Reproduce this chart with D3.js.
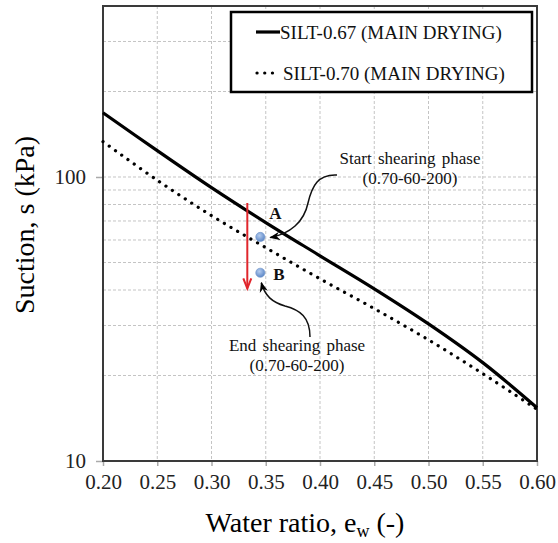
<!DOCTYPE html>
<html><head><meta charset="utf-8">
<script src="https://cdn.jsdelivr.net/npm/d3@7"></script>
<style>
html,body{margin:0;padding:0;background:#fff;}
svg text{font-family:"Liberation Serif","DejaVu Serif",serif !important;}
</style></head>
<body>
<svg id="chart" width="558" height="543"></svg>
<script>
// ---- data ----
const ewValues = [0.20, 0.25, 0.30, 0.35, 0.40, 0.45, 0.50, 0.55, 0.60];
const suctionSilt067 = [168.4, 123.8, 91.7, 69.1, 52.8, 40.4, 30.4, 22.2, 15.4];
const suctionSilt070 = [133.2, 97.4, 73.1, 56.4, 43.8, 34.4, 26.7, 20.3, 15.2];
const seriesNames = ["SILT-0.67 (MAIN DRYING)", "SILT-0.70 (MAIN DRYING)"];
const xTicks = [0.20, 0.25, 0.30, 0.35, 0.40, 0.45, 0.50, 0.55, 0.60];
const yTicks = [10, 100];
const yGrid = [20, 30, 40, 50, 60, 70, 80, 90, 100, 200, 300];
const pointLabels = ["A", "B"];
const pointEw = [0.345, 0.345];
const pointSuction = [61.5, 46];
const shearArrowEw = 0.333;
const shearArrowSuction = [81, 40.5];

// ---- layout ----
const FONT = "'Liberation Serif', 'DejaVu Serif', serif";
const svg = d3.select("#chart");
const L = 103, R = 537, T = 6, B = 461;
const x = d3.scaleLinear().domain([0.2, 0.6]).range([L, R]);
const y = d3.scaleLog().domain([10, 400]).range([B, T]);

// grid
const g = svg.append("g");
g.selectAll(".vg").data(xTicks.slice(1, -1)).join("line")
  .attr("x1", d => x(d)).attr("x2", d => x(d)).attr("y1", T).attr("y2", B)
  .attr("stroke", "#c4c4c4").attr("stroke-width", 1).attr("stroke-dasharray", "3,2");
g.selectAll(".hg").data(yGrid).join("line")
  .attr("x1", L).attr("x2", R).attr("y1", d => y(d)).attr("y2", d => y(d))
  .attr("stroke", "#c4c4c4").attr("stroke-width", 1).attr("stroke-dasharray", "3,2");

// axes
const xAxis = d3.axisBottom(x).tickValues(xTicks).tickFormat(d3.format(".2f")).tickSize(5).tickPadding(8);
const yAxis = d3.axisLeft(y).tickValues(yTicks).tickFormat(d3.format("d")).tickSize(7).tickPadding(10);
const gx = svg.append("g").attr("transform", `translate(0,${B})`).call(xAxis);
const gy = svg.append("g").attr("transform", `translate(${L},0)`).call(yAxis);
[gx, gy].forEach(a => {
  a.attr("font-family", FONT);
  a.select(".domain").remove();
  a.selectAll(".tick line").attr("stroke", "#aaa").attr("stroke-width", 1.5);
  a.selectAll(".tick text").attr("font-size", 21).attr("fill", "#222").style("font-family", FONT);
});

// frame
svg.append("rect").attr("x", L).attr("y", T).attr("width", R - L).attr("height", B - T)
  .attr("fill", "none").attr("stroke", "#3a3a3a").attr("stroke-width", 2);

// curves
const line = d3.line().x(d => x(d[0])).y(d => y(d[1])).curve(d3.curveCatmullRom.alpha(0.5));
const d067 = ewValues.map((e, i) => [e, suctionSilt067[i]]);
const d070 = ewValues.map((e, i) => [e, suctionSilt070[i]]);
svg.append("path").attr("d", line(d067)).attr("fill", "none").attr("stroke", "#000").attr("stroke-width", 3.2);
svg.append("path").attr("d", line(d070)).attr("fill", "none").attr("stroke", "#000").attr("stroke-width", 3.2)
  .attr("stroke-linecap", "round").attr("stroke-dasharray", "0.1,7.6");

// legend
svg.append("rect").attr("x", 231).attr("y", 12).attr("width", 301).attr("height", 80)
  .attr("fill", "#fff").attr("stroke", "#000").attr("stroke-width", 2.5);
svg.append("line").attr("x1", 256).attr("x2", 280).attr("y1", 32).attr("y2", 32)
  .attr("stroke", "#000").attr("stroke-width", 3.2);
svg.append("line").attr("x1", 257).attr("x2", 277).attr("y1", 73).attr("y2", 73)
  .attr("stroke", "#000").attr("stroke-width", 3.2).attr("stroke-linecap", "round").attr("stroke-dasharray", "0.1,7.6");
svg.selectAll(".legtxt").data(seriesNames).join("text")
  .attr("x", (d, i) => i === 0 ? 280 : 283).attr("y", (d, i) => i === 0 ? 38.5 : 79.5)
  .attr("font-size", 19).attr("fill", "#111").style("font-family", FONT).text(d => d);

// defs
const defs = svg.append("defs");
const grad = defs.append("radialGradient").attr("id", "ptg").attr("cx", "40%").attr("cy", "35%").attr("r", "65%");
grad.append("stop").attr("offset", "0%").attr("stop-color", "#b5cdf0");
grad.append("stop").attr("offset", "100%").attr("stop-color", "#5d87c6");
defs.append("marker").attr("id", "blk").attr("viewBox", "0 0 10 10").attr("refX", 9).attr("refY", 5)
  .attr("markerWidth", 7).attr("markerHeight", 7).attr("orient", "auto-start-reverse")
  .append("path").attr("d", "M0,1 L10,5 L0,9 L3,5 Z").attr("fill", "#000");

// red arrow
const ax = x(shearArrowEw), ay1 = y(shearArrowSuction[0]), ay2 = y(shearArrowSuction[1]);
svg.append("line").attr("x1", ax).attr("x2", ax).attr("y1", ay1).attr("y2", ay2)
  .attr("stroke", "#e0262c").attr("stroke-width", 2);
svg.append("path").attr("d", `M${ax - 4},${ay2 - 10} L${ax},${ay2} L${ax + 4},${ay2 - 10}`)
  .attr("fill", "none").attr("stroke", "#e0262c").attr("stroke-width", 2);

// points
svg.selectAll(".pt").data(pointEw).join("circle")
  .attr("cx", d => x(d)).attr("cy", (d, i) => y(pointSuction[i])).attr("r", 4.6)
  .attr("fill", "url(#ptg)").attr("stroke", "#6f93c9").attr("stroke-width", 0.6);
svg.selectAll(".ptl").data(pointLabels).join("text")
  .attr("x", (d, i) => x(pointEw[i]) + (i === 0 ? 9 : 13)).attr("y", (d, i) => y(pointSuction[i]) + (i === 0 ? -18 : 7))
  .attr("font-size", 17).attr("font-weight", "bold").attr("fill", "#111").style("font-family", FONT).text(d => d);

// annotations
const pA = [x(pointEw[0]), y(pointSuction[0])];
const pB = [x(pointEw[1]), y(pointSuction[1])];
svg.append("path")
  .attr("d", `M337,175 C318,174 312,186 308,203 C304,222 290,234 ${pA[0] + 10},${pA[1] + 0.5}`)
  .attr("fill", "none").attr("stroke", "#111").attr("stroke-width", 1.5).attr("marker-end", "url(#blk)");
svg.append("path")
  .attr("d", `M310,337 C310,317 300,310 285,306 C272,302 265,296 ${pB[0] + 1},${pB[1] + 10}`)
  .attr("fill", "none").attr("stroke", "#111").attr("stroke-width", 1.5).attr("marker-end", "url(#blk)");

const ann = [
  {t: "Start shearing phase", cx: 410, cy: 164},
  {t: "(0.70-60-200)", cx: 410, cy: 184},
  {t: "End shearing phase", cx: 297, cy: 351},
  {t: "(0.70-60-200)", cx: 297, cy: 371}
];
svg.selectAll(".ann").data(ann).join("text")
  .attr("x", d => d.cx).attr("y", d => d.cy).attr("text-anchor", "middle")
  .attr("font-size", 17).attr("fill", "#111").attr("word-spacing", 2).style("font-family", FONT).text(d => d.t);

// axis titles
const xt = svg.append("text").attr("x", 305).attr("y", 532).attr("text-anchor", "middle")
  .attr("font-size", 28).attr("fill", "#000").style("font-family", FONT);
xt.append("tspan").text("Water ratio, e");
xt.append("tspan").attr("font-size", 18).attr("dy", 5).text("w");
xt.append("tspan").attr("dy", -5).text(" (-)");
svg.append("text").attr("transform", "translate(34,225) rotate(-90)").attr("text-anchor", "middle")
  .attr("font-size", 28).attr("fill", "#000").style("font-family", FONT).text("Suction, s (kPa)");
</script>
</body></html>
